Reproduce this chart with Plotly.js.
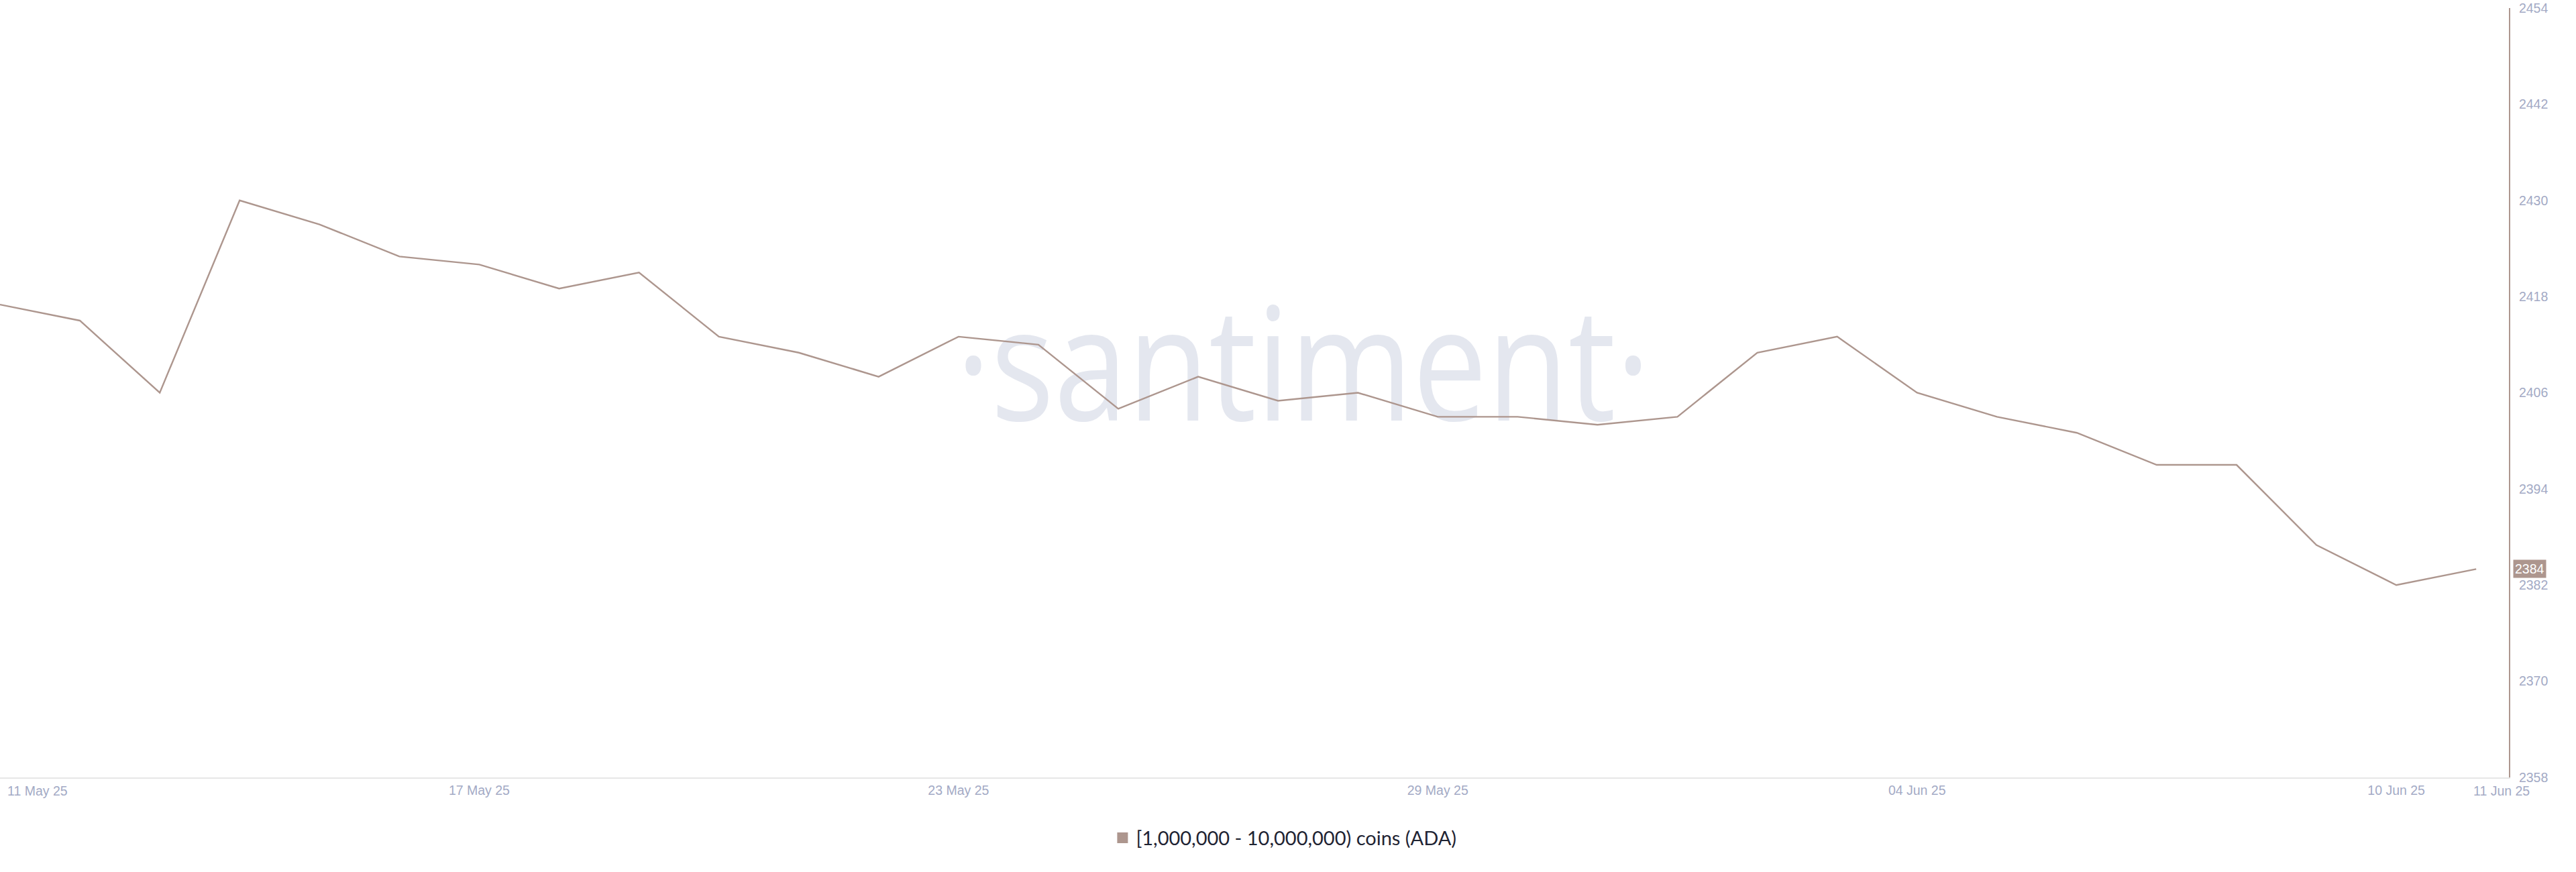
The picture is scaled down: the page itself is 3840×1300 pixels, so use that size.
<!DOCTYPE html>
<html>
<head>
<meta charset="utf-8">
<script src="https://cdn.plot.ly/plotly-3.0.1.min.js"></script>
<style>
  html, body { margin: 0; padding: 0; background: #ffffff; }
  #chart { width: 3840px; height: 1300px; }
</style>
</head>
<body>
<div id="chart"></div>
<script>
// ---- Data ----
const dates = [
  '2025-05-11','2025-05-12','2025-05-13','2025-05-14','2025-05-15','2025-05-16',
  '2025-05-17','2025-05-18','2025-05-19','2025-05-20','2025-05-21','2025-05-22',
  '2025-05-23','2025-05-24','2025-05-25','2025-05-26','2025-05-27','2025-05-28',
  '2025-05-29','2025-05-30','2025-05-31','2025-06-01','2025-06-02','2025-06-03',
  '2025-06-04','2025-06-05','2025-06-06','2025-06-07','2025-06-08','2025-06-09',
  '2025-06-10','2025-06-11'
];
const holders = [
  2417, 2415, 2406, 2430, 2427, 2423,
  2422, 2419, 2421, 2413, 2411, 2408,
  2413, 2412, 2404, 2408, 2405, 2406,
  2403, 2403, 2402, 2403, 2411, 2413,
  2406, 2403, 2401, 2397, 2397, 2387,
  2382, 2384
];
const seriesName = '[1,000,000 - 10,000,000) coins (ADA)';
const xTickVals = ['2025-05-17','2025-05-23','2025-05-29','2025-06-04','2025-06-10'];
const xTickText = ['17 May 25','23 May 25','29 May 25','04 Jun 25','10 Jun 25'];
const xEdgeVals = ['2025-05-11','2025-06-11'];
const xEdgeText = ['11 May 25','11 Jun 25'];
const yTickVals = [2358, 2370, 2382, 2394, 2406, 2418, 2430, 2442, 2454];
const watermark = '·santiment·';

// ---- Styles ----
const lineColor = '#ad968e';
const tickColor = '#a3aac5';
const tickFont = { family: 'Liberation Sans, Arial, sans-serif', size: 19.5, color: tickColor };

const traces = [
  {
    x: dates, y: holders, type: 'scatter', mode: 'lines',
    line: { color: lineColor, width: 2.4 },
    name: seriesName, showlegend: false, hoverinfo: 'skip'
  },
  {
    x: [null], y: [null], type: 'scatter', mode: 'markers',
    marker: { symbol: 'square', size: 18, color: lineColor },
    name: seriesName, showlegend: true
  }
];

const annotations = [
  {
    text: watermark, xref: 'paper', yref: 'paper', x: 0.5195, y: 0.543,
    xanchor: 'center', yanchor: 'middle', showarrow: false,
    font: { family: 'Open Sans, sans-serif', size: 234, color: '#e4e7ef' }
  },
  {
    text: String(holders[holders.length - 1]), xref: 'paper', yref: 'y',
    x: 1, y: holders[holders.length - 1], xanchor: 'left', yanchor: 'middle',
    xshift: 6, showarrow: false, bgcolor: lineColor, borderpad: 2,
    font: { family: 'Liberation Sans, Arial, sans-serif', size: 19.5, color: '#ffffff' }
  },
  {
    text: xEdgeText[0], xref: 'x', yref: 'paper', x: xEdgeVals[0], y: 0,
    xanchor: 'left', yanchor: 'top', xshift: 9, yshift: -7, showarrow: false,
    font: tickFont
  },
  {
    text: xEdgeText[1], xref: 'x', yref: 'paper', x: xEdgeVals[1], y: 0,
    xanchor: 'center', yanchor: 'top', xshift: 38, yshift: -7, showarrow: false,
    font: tickFont
  }
];

const layout = {
  width: 3840, height: 1300,
  margin: { l: 0, r: 100, t: 12, b: 141, pad: 0 },
  paper_bgcolor: '#ffffff', plot_bgcolor: 'rgba(0,0,0,0)',
  showlegend: true,
  xaxis: {
    type: 'date',
    range: ['2025-05-11 00:00', '2025-06-11 09:50'],
    showgrid: false, zeroline: false,
    showline: true, linecolor: '#e6e6e6', linewidth: 2,
    tickmode: 'array', tickvals: xTickVals, ticktext: xTickText,
    ticks: '', ticklabelstandoff: 1,
    tickfont: tickFont, fixedrange: true
  },
  yaxis: {
    side: 'right',
    range: [2358, 2454],
    showgrid: false, zeroline: false,
    showline: true, linecolor: lineColor, linewidth: 2,
    tickmode: 'array', tickvals: yTickVals,
    ticks: '', ticklabelstandoff: 9,
    tickfont: tickFont, fixedrange: true
  },
  legend: {
    orientation: 'h', x: 0.5120, xanchor: 'center', y: -0.0785, yanchor: 'middle',
    font: { family: 'Lato, sans-serif', size: 29, color: '#1f2433' },
    bgcolor: 'rgba(0,0,0,0)'
  },
  annotations: annotations
};

Plotly.newPlot('chart', traces, layout, { staticPlot: true, displayModeBar: false }).then(function (gd) {
  const groups = gd.querySelectorAll('.annotation');
  groups.forEach(function (g) {
    const t = g.querySelector('text.annotation-text');
    if (t && t.textContent.indexOf('santiment') >= 0) {
      const bb = t.getBBox();
      const cx = bb.x + bb.width / 2;
      t.setAttribute('transform', 'translate(' + cx + ',0) scale(0.845,1) translate(' + (-cx) + ',0)');
      const cart = gd.querySelector('.cartesianlayer');
      if (cart && cart.parentNode) cart.parentNode.insertBefore(g, cart);
    }
  });
});
</script>
</body>
</html>
